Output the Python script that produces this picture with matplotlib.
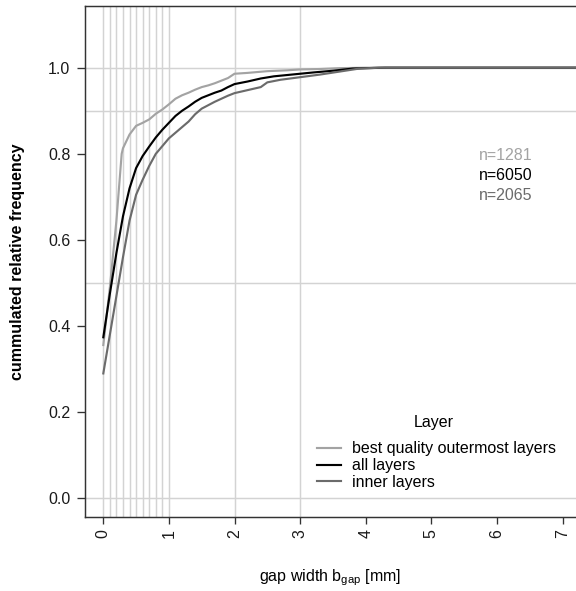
import numpy as np
import matplotlib
matplotlib.use("Agg")
import matplotlib.pyplot as plt

plt.rcParams['font.family'] = ['Liberation Sans', 'DejaVu Sans']
plt.rcParams['mathtext.fontset'] = 'custom'
plt.rcParams['mathtext.rm'] = 'Liberation Sans'
plt.rcParams['mathtext.it'] = 'Liberation Sans'

# ECDF curves
best_x = [0.0, 0.1, 0.2, 0.28, 0.3, 0.4, 0.5, 0.6, 0.7, 0.8, 0.9, 1.0, 1.1, 1.2, 1.3,
          1.4, 1.5, 1.6, 1.7, 1.8, 1.9, 2.0, 2.2, 2.5, 2.8, 3.0, 3.3, 3.6, 4.0, 7.3]
best_y = [0.356, 0.49, 0.645, 0.80, 0.813, 0.845, 0.865, 0.872, 0.880, 0.893, 0.903,
          0.915, 0.928, 0.936, 0.942, 0.949, 0.955, 0.959, 0.964, 0.970, 0.976, 0.986,
          0.988, 0.992, 0.994, 0.996, 0.997, 0.999, 1.0, 1.0]

all_x = [0.0, 0.1, 0.2, 0.3, 0.4, 0.5, 0.6, 0.7, 0.8, 0.9, 1.0, 1.1, 1.2, 1.3, 1.4,
         1.5, 1.6, 1.7, 1.8, 1.9, 2.0, 2.2, 2.4, 2.6, 2.8, 3.0, 3.2, 3.5, 3.8, 4.0, 4.3, 7.3]
all_y = [0.374, 0.475, 0.57, 0.655, 0.72, 0.767, 0.795, 0.817, 0.838, 0.856, 0.872,
         0.888, 0.900, 0.910, 0.921, 0.930, 0.936, 0.942, 0.947, 0.955, 0.962, 0.968,
         0.975, 0.980, 0.983, 0.986, 0.989, 0.993, 0.998, 0.999, 1.0, 1.0]

inner_x = [0.0, 0.1, 0.2, 0.3, 0.4, 0.5, 0.6, 0.7, 0.8, 0.9, 1.0, 1.1, 1.2, 1.3, 1.4,
           1.5, 1.6, 1.7, 1.8, 1.9, 2.0, 2.2, 2.4, 2.5, 2.7, 3.0, 3.3, 3.6, 3.9, 4.2, 7.3]
inner_y = [0.29, 0.38, 0.47, 0.56, 0.645, 0.705, 0.74, 0.772, 0.80, 0.818, 0.836,
           0.849, 0.862, 0.875, 0.892, 0.905, 0.913, 0.921, 0.928, 0.935, 0.941, 0.948,
           0.955, 0.966, 0.972, 0.978, 0.984, 0.991, 0.998, 1.0, 1.0]

labels = ['best quality outermost layers', 'all layers', 'inner layers']
counts = ['n=1281', 'n=6050', 'n=2065']
colors = ['#a3a3a3', '#000000', '#6b6b6b']

vgrid = [0, 0.1, 0.2, 0.3, 0.4, 0.5, 0.6, 0.7, 0.8, 0.9, 1.0, 2, 3]
hgrid = [0.0, 0.5, 0.9, 1.0]

fig = plt.figure(figsize=(6, 591 / 96), dpi=96)
ax = fig.add_axes([85 / 576, 74 / 591, 491 / 576, 511.5 / 591])

for v in vgrid:
    ax.axvline(v, color='#d3d3d3', lw=1.1, zorder=1)
for h in hgrid:
    ax.axhline(h, color='#d3d3d3', lw=1.1, zorder=1)

lines = []
for xs, ys, c, lab in zip([best_x, all_x, inner_x], [best_y, all_y, inner_y], colors, labels):
    ln, = ax.plot(xs, ys, color=c, lw=1.6, label=lab, zorder=3)
    lines.append(ln)

for i, (t, c) in enumerate(zip(counts, colors)):
    ax.text(6.14, 0.797 - i * 0.0465, t, color=c, fontsize=12, ha='center', va='center')

ax.set_xlim(-0.279, 7.205)
ax.set_ylim(-0.0434, 1.1445)
ax.set_xticks(range(8))
ax.set_yticks([0.0, 0.2, 0.4, 0.6, 0.8, 1.0])
ax.set_yticklabels(['0.0', '0.2', '0.4', '0.6', '0.8', '1.0'])
ax.tick_params(axis='x', labelrotation=90, length=5, width=1, pad=4, labelsize=12,
               colors='#333333', labelcolor='#1a1a1a')
ax.tick_params(axis='y', length=6, width=1, pad=5, labelsize=12,
               colors='#333333', labelcolor='#1a1a1a')
for s in ['left', 'bottom', 'top']:
    ax.spines[s].set_color('#333333')
    ax.spines[s].set_linewidth(1.1)
ax.spines['right'].set_visible(False)

fig.text(18 / 576, ax.get_position().y0 + ax.get_position().height / 2,
         'cummulated relative frequency', rotation=90, fontsize=12, fontweight='bold',
         ha='center', va='center')
fig.text(330 / 576, 1 - 578 / 591, r'gap width b$_{\mathrm{gap}}$ [mm]', fontsize=12,
         ha='center', va='center')

ax.text(0.7098, 0.1844, 'Layer', transform=ax.transAxes, fontsize=12, ha='center', va='center')
ax.legend(handles=lines, loc='upper left', bbox_to_anchor=(0.4725, 0.1477), frameon=False,
          fontsize=12, borderpad=0, borderaxespad=0, handlelength=1.5, handletextpad=0.7,
          labelspacing=0.11)

fig.savefig('out.png', dpi=96)
